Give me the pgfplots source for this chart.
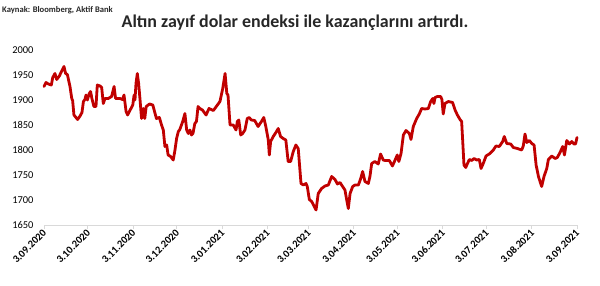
\documentclass[border=0pt]{standalone}
\usepackage{pgfplots}
\pgfplotsset{compat=1.18}
\usepackage{fontspec}
\setmainfont{Carlito}
\definecolor{goldred}{HTML}{C00000}
\definecolor{axgray}{HTML}{D9D9D9}
\begin{document}
\begin{tikzpicture}
\path[use as bounding box] (-44bp,-61bp) rectangle (556bp,225bp);
\begin{axis}[
  at={(0,0)}, anchor=south west,
  scale only axis, width=533bp, height=175bp,
  xmin=0, xmax=365, ymin=1650, ymax=2000,
  axis x line*=bottom, axis y line*=left,
  x axis line style={draw=axgray, line width=0.9bp, -},
  y axis line style={draw=none},
  xtick style={draw=axgray, line width=0.9bp},
  ytick style={draw=none},
  tick align=outside, major tick length=4bp,
  xtick={0,30,61,91,122,153,181,212,242,273,303,334,365},
  xticklabels={3.09.2020,3.10.2020,3.11.2020,3.12.2020,3.01.2021,3.02.2021,3.03.2021,3.04.2021,3.05.2021,3.06.2021,3.07.2021,3.08.2021,3.09.2021},
  xticklabel style={rotate=45, anchor=east, font=\bfseries\fontsize{10.5}{12}\selectfont, inner sep=1bp, yshift=-2bp},
  ytick={1650,1700,...,2000},
  yticklabel style={font=\fontsize{10.5}{12}\selectfont, /pgf/number format/1000 sep={}, /pgf/number format/assume math mode=true, xshift=-3bp},
  clip=false,
]
\addplot[goldred, line width=2.8bp, line join=round, line cap=round] coordinates {
(0,1927)(1.4,1935)(3,1932)(5,1930)(6,1945)(7.5,1953)(8.7,1941)(10.5,1948)(12,1957)(13.7,1967)(14.8,1953)(16,1951)(17.8,1927)(19,1903)(19.6,1899)(20.5,1870)(21.9,1865)(23,1861)(24.7,1868)(26,1875)(27,1897)(28,1901)(28.8,1910)(29.7,1900)(31,1913)(31.9,1917)(32.8,1903)(34.2,1887)(35.6,1887)(36.5,1930)(38.4,1928)(39.5,1925)(40.6,1893)(41.8,1903)(44,1903)(46.3,1907)(48,1927)(49,1903)(52,1903)(53.8,1901)(54.8,1910)(56.2,1877)(57.3,1870)(59,1880)(60.8,1890)(61.7,1910)(62.3,1900)(63,1933)(63.9,1953)(64.8,1933)(65.7,1903)(66.8,1863)(68,1883)(69,1863)(70,1887)(72.3,1892)(74.5,1890)(75.7,1877)(77,1863)(79,1865)(80.5,1850)(81.7,1840)(82.8,1807)(84,1810)(85,1790)(86.7,1787)(88.5,1780)(89.7,1800)(90.8,1823)(92,1837)(93,1841)(95,1857)(96.5,1873)(97.7,1840)(98.8,1833)(99.9,1840)(101,1830)(102,1833)(103.3,1853)(104.4,1857)(105.5,1887)(106.7,1883)
(108.5,1880)(111,1870)(113,1883)(116,1879)(118,1887)(120.5,1897)(122.4,1923)(124,1953)(125.2,1913)(126,1910)(127.4,1850)(129.6,1850)(131.5,1840)(132.4,1857)(133.4,1860)(134.7,1830)(136,1833)(137.6,1840)(139.2,1863)(140.5,1865)(142,1860)(144.3,1859)(146.6,1847)(148.9,1857)(150.5,1865)(151.9,1847)(153.6,1820)(154.3,1790)(155.2,1817)(157,1827)(158.8,1835)(160.4,1843)(162,1827)(163.8,1823)(165.6,1820)(167.2,1777)(168.9,1777)(170.7,1797)(172.5,1810)(174.1,1803)(176,1733)(177.6,1730)(179.4,1733)(180.3,1727)(181.7,1701)(183.3,1697)(184.9,1688)(186.3,1680)(187.8,1713)(190.1,1723)(192.4,1728)(194.7,1730)(197,1747)(199.3,1741)(200.9,1732)(202.7,1735)(204.5,1727)(206.1,1720)(207.3,1700)(208.4,1683)(209.6,1713)(211.4,1727)(213,1730)(215.3,1730)(216.9,1743)(218.2,1757)(219.8,1737)(222.1,1733)(223.2,1747)(224.4,1773)(226.6,1777)(228.9,1772)(230.5,1792)(232.3,1780)
(233.5,1779)(236.5,1779)(238.6,1768)(240.3,1779)(241.9,1790)(243,1777)(244.5,1793)(246.1,1830)(247.9,1839)(250.2,1833)(251.3,1821)(252.9,1847)(255.2,1863)(257,1872)(258.6,1883)(260.9,1882)(263.2,1883)(264.8,1897)(266.2,1903)(267,1893)(267.8,1905)(269.4,1907)(271.6,1907)(272.5,1901)(273.4,1872)(274.6,1893)(276.9,1897)(279.8,1895)(281.5,1880)(283.1,1870)(284.9,1861)(286,1857)(286.7,1820)(287.6,1770)(288.8,1765)(290,1773)(291.3,1781)(292.9,1779)(294.5,1783)(296.3,1780)(298.1,1781)(299.3,1763)(300.8,1773)(302.7,1788)(305.4,1793)(307.7,1800)(309.5,1808)(311.8,1807)(314.1,1817)(315.2,1827)(316.9,1813)(319.6,1812)(321.4,1805)(324.2,1803)(327.1,1800)(328.2,1808)(329.4,1832)(330.6,1815)(332.4,1819)(334,1813)(335.6,1810)(337,1770)(338.6,1747)(340.8,1727)(342.4,1747)(344.3,1763)(345.4,1781)(347.7,1788)(350,1783)(351.5,1785)(353.4,1795)(355.2,1807)(356.4,1790)(358,1819)(359.8,1812)(361.4,1817)(363,1812)(364,1812)(365,1825)
};
\end{axis}
\node[font=\bfseries\fontsize{18}{20}\selectfont, text=black!85] at (251bp,202bp) {Altın zayıf dolar endeksi ile kazançlarını artırdı.};
\node[font=\bfseries\fontsize{8.6}{10}\selectfont, anchor=west, inner sep=0pt, text=black!85] at (-42bp,215bp) {Kaynak: Bloomberg, Aktif Bank};
\end{tikzpicture}
\end{document}
